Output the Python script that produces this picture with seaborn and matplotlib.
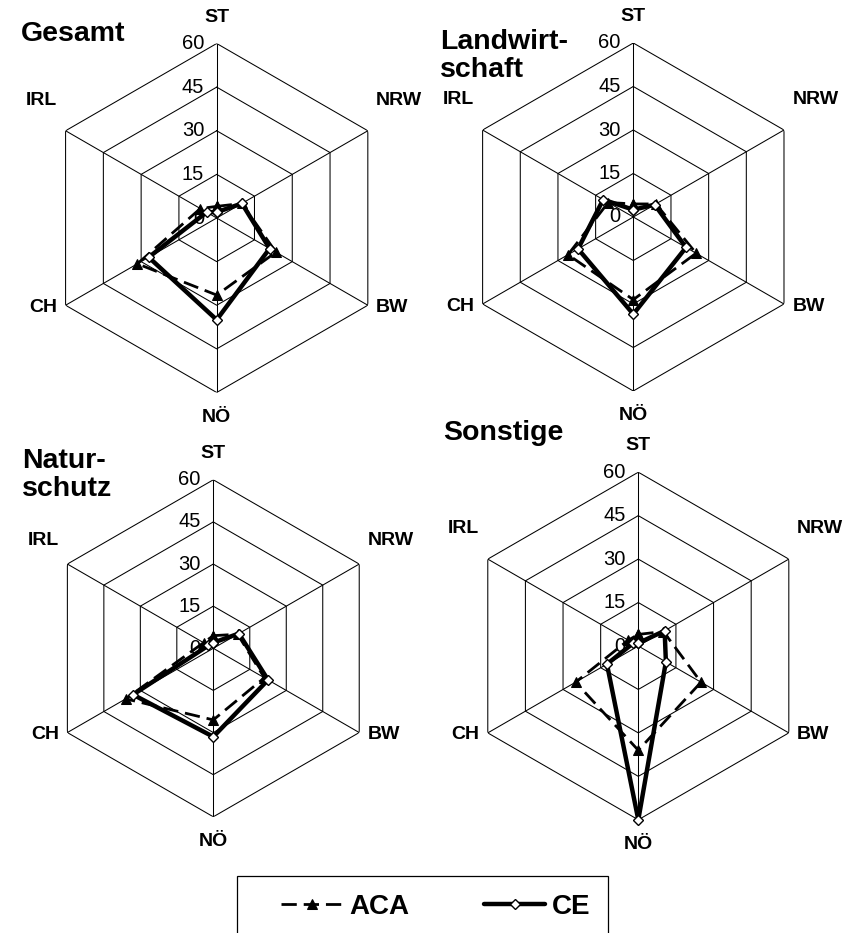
import numpy as np
import pandas as pd
import matplotlib
matplotlib.use("Agg")
import matplotlib.pyplot as plt
import seaborn as sns
from matplotlib.patches import Rectangle

# Achsen (im Uhrzeigersinn ab oben) und Skala
regions = ["ST", "NRW", "BW", "NÖ", "CH", "IRL"]
ring_ticks = [0, 15, 30, 45, 60]

titles = ["Gesamt", "Landwirt-\nschaft", "Natur-\nschutz", "Sonstige"]

# Werte je Panel, Reihenfolge wie regions
aca_gesamt = [4, 10, 23.5, 26.5, 31.5, 6.5]
ce_gesamt = [2, 10, 21, 35, 27, 4]
aca_landwirtschaft = [4.5, 9, 25, 28.5, 26, 10]
ce_landwirtschaft = [2.5, 8.5, 21, 33.5, 22, 12]
aca_naturschutz = [4.5, 10, 21, 25.5, 36, 4]
ce_naturschutz = [2, 10.5, 22.5, 31.5, 33, 2]
aca_sonstige = [4, 10, 25, 36, 25, 4]
ce_sonstige = [1, 10.5, 11, 60, 12.5, 2]

aca_values = [aca_gesamt, aca_landwirtschaft, aca_naturschutz, aca_sonstige]
ce_values = [ce_gesamt, ce_landwirtschaft, ce_naturschutz, ce_sonstige]

sns.set_style("white")
plt.rcParams["font.family"] = ["Liberation Sans", "DejaVu Sans"]
plt.rcParams["text.color"] = "black"
plt.rcParams["lines.scale_dashes"] = False

W, H = 864, 933
fig = plt.figure(figsize=(W / 100, H / 100), dpi=100)

# Mittelpunkt und Radius je Panel in Pixeln
panel_geom = [(216.7, 218, 174.5), (633.3, 217, 174), (213.3, 648.3, 168.5), (638.3, 646, 173.8)]
title_pos = [(21, 34), (440, 56), (22, 475), (443, 433)]
# Abstand der oberen Seitenlabels (NRW, IRL) in Punkten
upper_dy = [22, 22, 17, 22]

angles = np.deg2rad(np.arange(0, 360, 60))
closed = np.append(angles, angles[0] + 2 * np.pi)

for i, (cx, cy, R) in enumerate(panel_geom):
    ax = fig.add_axes([(cx - R) / W, 1 - (cy + R) / H, 2 * R / W, 2 * R / H], projection="polar")
    ax.set_theta_zero_location("N")
    ax.set_theta_direction(-1)
    ax.grid(False)
    ax.spines["polar"].set_visible(False)
    ax.patch.set_visible(False)
    ax.set_xticks([])
    ax.set_yticks([])

    # sechseckiges Netz
    for r in ring_ticks[1:]:
        ax.plot(closed, [r] * len(closed), color="black", lw=0.75, zorder=1)
    for a in angles:
        ax.plot([a, a], [0, 60], color="black", lw=0.75, zorder=1)

    df = pd.DataFrame({
        "theta": np.concatenate([closed, closed]),
        "wert": aca_values[i] + aca_values[i][:1] + ce_values[i] + ce_values[i][:1],
        "reihe": ["ACA"] * 7 + ["CE"] * 7,
    })
    sns.lineplot(data=df[df.reihe == "ACA"], x="theta", y="wert", ax=ax, sort=False,
                 color="black", lw=2.0, linestyle=(0, (11, 5)), marker="^", markersize=7,
                 markeredgecolor="black", markerfacecolor="black", label="ACA",
                 clip_on=False, zorder=3)
    sns.lineplot(data=df[df.reihe == "CE"], x="theta", y="wert", ax=ax, sort=False,
                 color="black", lw=3.2, marker="D", markersize=5.5, markerfacecolor="white",
                 markeredgecolor="black", markeredgewidth=1, label="CE",
                 clip_on=False, zorder=4)
    if ax.get_legend() is not None:
        ax.get_legend().remove()
    ax.set_xlabel("")
    ax.set_ylabel("")
    ax.set_ylim(0, 60)

    for r in ring_ticks:
        ax.annotate(str(r), xy=(0, r), xytext=(-9, 0), textcoords="offset points",
                    ha="right", va="center", fontsize=14.5, annotation_clip=False)

    # Label-Versatz in Punkten: (dx, dy, ha)
    label_offsets = [(0, 19, "center"), (6, upper_dy[i], "left"), (6, -1.5, "left"),
                     (0, -18, "center"), (-6, -1.5, "right"), (-6, upper_dy[i], "right")]
    for a, name, (dx, dy, ha) in zip(angles, regions, label_offsets):
        ax.annotate(name, xy=(a, 60), xytext=(dx, dy), textcoords="offset points",
                    ha=ha, va="center", fontsize=14, fontweight="bold", annotation_clip=False)

    tx, ty = title_pos[i]
    fig.text(tx / W, 1 - ty / H, titles[i], ha="left", va="center", fontsize=20.5,
             fontweight="bold", linespacing=1.1)

    if i == 0:
        handles, labels = ax.get_legend_handles_labels()

# Legendenrahmen, unten abgeschnitten
fig.patches.append(Rectangle((237 / W, -0.02), (608 - 237) / W, 1 - 876 / H + 0.02,
                             transform=fig.transFigure, fill=False, edgecolor="black", lw=0.9))
fig.legend(handles, labels, loc="center left", bbox_to_anchor=(281 / W, 1 - 907 / H),
           ncol=2, frameon=False, prop={"weight": "bold", "size": 20},
           handlelength=2.2, handletextpad=0.25, columnspacing=2.7,
           borderpad=0, borderaxespad=0)

fig.savefig("out.png", dpi=100)
